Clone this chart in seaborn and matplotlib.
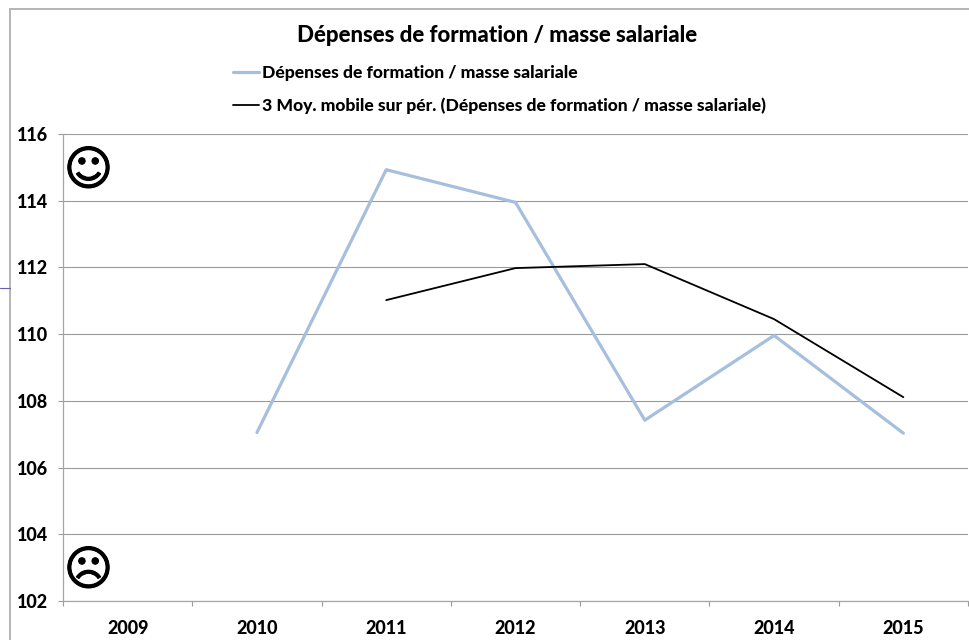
import matplotlib
matplotlib.use("Agg")
import matplotlib.pyplot as plt
import matplotlib.patheffects as pe
from matplotlib.lines import Line2D
import numpy as np
import pandas as pd
import seaborn as sns

years = ["2009", "2010", "2011", "2012", "2013", "2014", "2015"]
depenses = [np.nan, 107.05, 114.93, 113.95, 107.42, 109.96, 107.03]
moyenne = [np.nan, np.nan, 111.02, 111.98, 112.10, 110.45, 108.11]
yticks = [102, 104, 106, 108, 110, 112, 114, 116]
title = "Dépenses de formation / masse salariale"
label_a = "Dépenses de formation / masse salariale"
label_b = "3 Moy. mobile sur pér. (Dépenses de formation / masse salariale)"

sns.set_theme(style="white")
plt.rcParams["font.family"] = ["Lato", "DejaVu Sans"]
W, H = 970, 640
fig = plt.figure(figsize=(W / 100, H / 100), dpi=100, facecolor="white")
ax = fig.add_axes([63 / W, 1 - 601 / H, 905 / W, 467 / H])

df = pd.DataFrame({"pos": np.arange(len(years)), "a": depenses, "b": moyenne})
sns.lineplot(data=df, x="pos", y="a", ax=ax, color="#A6BFDD", lw=2.3, errorbar=None)
sns.lineplot(data=df, x="pos", y="b", ax=ax, color="#000000", lw=1.3, errorbar=None)

ax.set_xlim(-0.5, 6.5)
ax.set_ylim(102, 116)
ax.set_xlabel("")
ax.set_ylabel("")
ax.set_xticks(range(len(years)))
ax.set_xticklabels(years, fontsize=13, fontweight="black", color="black")
ax.set_xticks(np.arange(-0.5, 7), minor=True)
ax.tick_params(axis="x", which="major", length=0, pad=14)
ax.tick_params(axis="x", which="minor", length=3.6, width=0.8, color="#9A9A9A", bottom=True)
ax.set_yticks(yticks)
ax.set_yticklabels([str(v) for v in yticks], fontsize=13, fontweight="black", color="black")
ax.tick_params(axis="y", length=3.6, width=0.8, color="#9A9A9A", left=True, pad=7)
ax.grid(axis="y", color="#9A9A9A", lw=0.8)
ax.set_axisbelow(True)
for s in ("top", "right"):
    ax.spines[s].set_visible(False)
for s in ("left", "bottom"):
    ax.spines[s].set_color("#A6A6A6")
    ax.spines[s].set_linewidth(0.9)

def fx(px):
    return px / W
def fy(py):
    return 1 - py / H

# Outer frame and stray line
fig.add_artist(Line2D([fx(10.5), fx(10.5)], [fy(9), fy(640)], color="#B4B4B4", lw=1.4))
fig.add_artist(Line2D([fx(10), fx(970)], [fy(9), fy(9)], color="#B4B4B4", lw=1.4))
fig.add_artist(Line2D([fx(0), fx(10)], [fy(288), fy(288)], color="#6A5FA8", lw=0.8))

fig.text(fx(497), fy(35), title, ha="center", va="center", fontsize=16, fontweight="black", color="black")

# Legend
handles = [Line2D([], [], color="#A6BFDD", lw=2.3, label=label_a),
           Line2D([], [], color="#000000", lw=1.3, label=label_b)]
fig.legend(handles=handles, loc="upper left", bbox_to_anchor=(fx(233), fy(65)), frameon=False,
           handlelength=1.46, handletextpad=0.22, labelspacing=0.95, borderpad=0, borderaxespad=0,
           labelcolor="black", prop={"size": 12.6, "weight": "black"})

# Smileys
stroke = [pe.withStroke(linewidth=0.8, foreground="black")]
fig.text(fx(88.5), fy(172), "\u263A", family="DejaVu Sans", ha="center", va="center",
         fontsize=34, color="black", path_effects=stroke)
fig.text(fx(88.5), fy(572), "\u2639", family="DejaVu Sans", ha="center", va="center",
         fontsize=34, color="black", path_effects=stroke)

fig.savefig("out.png", dpi=100)
